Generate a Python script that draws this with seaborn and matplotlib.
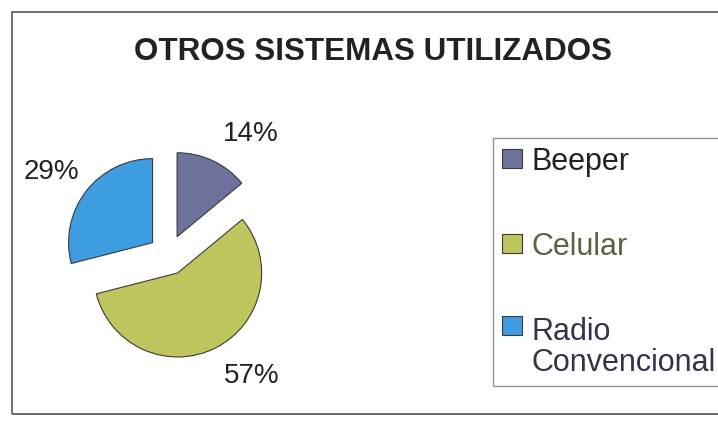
import matplotlib
matplotlib.use("Agg")
import matplotlib.pyplot as plt
from matplotlib.patches import Rectangle
from matplotlib.legend_handler import HandlerPatch
import seaborn as sns

# Data
categories = ["Beeper", "Celular", "Radio\nConvencional"]
shares = [14, 57, 29]
colors = ["#6c729c", "#bec55d", "#3d9de0"]
title = "OTROS SISTEMAS UTILIZADOS"

sns.set_theme(style="white")
plt.rcParams["font.family"] = ["Liberation Sans", "DejaVu Sans"]

W, H, DPI = 718, 421, 100
fig = plt.figure(figsize=(W / DPI, H / DPI), dpi=DPI)
fig.patch.set_facecolor("white")

# outer chart frame
frame = Rectangle((12 / W, 1 - 414 / H), 1.2, (414 - 12) / H,
                  transform=fig.transFigure, fill=False,
                  edgecolor="#555555", linewidth=1.2, clip_on=False)
fig.add_artist(frame)

fig.text(373 / W, 1 - 60 / H, title, ha="center", va="baseline",
         fontsize=22.6, fontweight="bold", color="#222222")

# pie axes: one data unit = pie radius in pixels
R = 84.0
cx, cy = 168.5, 255.0
ax = fig.add_axes([0, 0, 1, 1])
wedges, texts, autotexts = ax.pie(
    shares, colors=colors, startangle=90, counterclock=False,
    explode=[0.24] * len(shares), autopct="%1.0f%%", pctdistance=1.5,
    wedgeprops=dict(edgecolor="#3a3a3a", linewidth=0.8),
    textprops=dict(fontsize=20, color="#222222"))
ax.set_xlim(-cx / R, (W - cx) / R)
ax.set_ylim(-(H - cy) / R, cy / R)
ax.set_aspect("auto")
ax.axis("off")

# nudge percentage labels (pixels: right, down)
nudges = [(20, 11), (17, -9), (-2, 7)]
for t, (dx, dy) in zip(autotexts, nudges):
    x, y = t.get_position()
    t.set_position((x + dx / R, y - dy / R))


# legend keys: small squares; the two-line entry keeps its key on the first line
def square_key(shift_lines):
    def make(legend, orig_handle, xdescent, ydescent, width, height, fontsize):
        return Rectangle((-xdescent, -ydescent + shift_lines * fontsize * 0.74),
                         width, height)
    return HandlerPatch(patch_func=make)


hmap = {w: square_key(lab.count("\n")) for w, lab in zip(wedges, categories)}
leg = fig.legend(
    wedges, categories, handler_map=hmap,
    loc="upper left", bbox_to_anchor=(493 / W, 1 - 138 / H),
    bbox_transform=fig.transFigure, borderaxespad=0,
    fontsize=22, frameon=True, fancybox=False, shadow=False,
    handlelength=0.68, handleheight=0.6, handletextpad=0.3,
    labelspacing=1.8, borderpad=0.28)
leg.get_frame().set_edgecolor("#777777")
leg.get_frame().set_linewidth(1.0)
text_colors = ["#222222", "#5a6244", "#2f3645"]
for t, c in zip(leg.get_texts(), text_colors):
    t.set_linespacing(1.05)
    t.set_color(c)

fig.savefig("out.png", dpi=DPI, facecolor="white")
